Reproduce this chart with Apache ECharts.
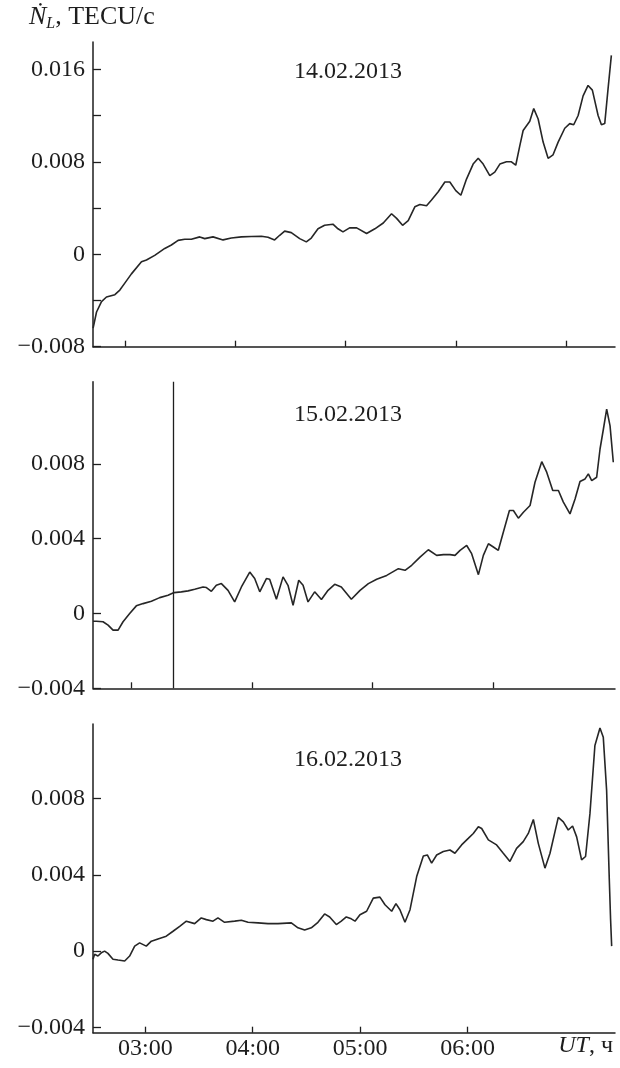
<!DOCTYPE html>
<html>
<head>
<meta charset="utf-8">
<script src="https://cdn.jsdelivr.net/npm/echarts@6/dist/echarts.min.js"></script>
<style>
  html, body { margin: 0; padding: 0; background: #fff; }
  #chart { width: 620px; height: 1068px; }
</style>
</head>
<body>
<div id="chart"></div>
<script>
// Rate of TEC change, Ṅ_L (TECU/c) versus UT, three days of February 2013.
const dayLabels = ['14.02.2013', '15.02.2013', '16.02.2013'];

const day14Hours = [2.713, 2.744, 2.789, 2.834, 2.910, 2.955, 3.000, 3.060, 3.151, 3.196, 3.271, 3.362, 3.422, 3.483, 3.543, 3.603, 3.679, 3.724, 3.799, 3.890, 3.965, 4.056, 4.146, 4.237, 4.297, 4.357, 4.403, 4.448, 4.508, 4.584, 4.644, 4.689, 4.750, 4.810, 4.885, 4.931, 4.976, 5.036, 5.100, 5.190, 5.265, 5.341, 5.416, 5.462, 5.516, 5.567, 5.627, 5.673, 5.733, 5.778, 5.839, 5.899, 5.944, 5.998, 6.044, 6.095, 6.155, 6.201, 6.246, 6.306, 6.351, 6.397, 6.457, 6.502, 6.541, 6.578, 6.608, 6.668, 6.704, 6.744, 6.789, 6.834, 6.879, 6.925, 6.985, 7.030, 7.066, 7.106, 7.151, 7.196, 7.235, 7.287, 7.317, 7.347, 7.377, 7.407];
const day14Values = [-0.0064, -0.0050, -0.0041, -0.0037, -0.0035, -0.0031, -0.0025, -0.0017, -0.00066, -0.0005, -0.0001, 0.0005, 0.0008, 0.0012, 0.0013, 0.0013, 0.0015, 0.00135, 0.0015, 0.00124, 0.0014, 0.0015, 0.00153, 0.00156, 0.00147, 0.00124, 0.00164, 0.0020, 0.00187, 0.00135, 0.00107, 0.0014, 0.0022, 0.0025, 0.0026, 0.0022, 0.00193, 0.00228, 0.00228, 0.00179, 0.0022, 0.0027, 0.0035, 0.0031, 0.0025, 0.0029, 0.0041, 0.0043, 0.0042, 0.0047, 0.0054, 0.00625, 0.00625, 0.0055, 0.0051, 0.0065, 0.0078, 0.0083, 0.0078, 0.0068, 0.0071, 0.0078, 0.0080, 0.0080, 0.0077, 0.0094, 0.0107, 0.0115, 0.0126, 0.0117, 0.0097, 0.0083, 0.0086, 0.0097, 0.0109, 0.0113, 0.0112, 0.0120, 0.0137, 0.0146, 0.0142, 0.0120, 0.0112, 0.0113, 0.0143, 0.0172];

const day15Hours = [2.682, 2.710, 2.765, 2.807, 2.848, 2.890, 2.931, 2.986, 3.041, 3.097, 3.166, 3.235, 3.304, 3.354, 3.414, 3.470, 3.525, 3.594, 3.622, 3.663, 3.704, 3.746, 3.801, 3.856, 3.912, 3.981, 4.022, 4.064, 4.119, 4.146, 4.202, 4.257, 4.298, 4.340, 4.387, 4.423, 4.464, 4.519, 4.575, 4.630, 4.685, 4.740, 4.823, 4.895, 4.964, 5.033, 5.116, 5.213, 5.268, 5.323, 5.392, 5.461, 5.530, 5.586, 5.641, 5.682, 5.724, 5.779, 5.820, 5.876, 5.917, 5.959, 6.000, 6.041, 6.083, 6.133, 6.166, 6.207, 6.249, 6.304, 6.345, 6.401, 6.442, 6.492, 6.539, 6.580, 6.635, 6.677, 6.718, 6.760, 6.787, 6.815, 6.856, 6.884, 6.912, 6.939, 6.967, 6.994];
const day15Values = [-0.00041, -0.00041, -0.00044, -0.00062, -0.00089, -0.00089, -0.00044, 0.0, 0.00041, 0.00053, 0.00066, 0.00085, 0.00098, 0.00112, 0.00116, 0.00121, 0.0013, 0.00142, 0.00139, 0.00119, 0.00151, 0.0016, 0.00124, 0.00062, 0.00142, 0.00222, 0.00187, 0.00116, 0.00187, 0.00183, 0.00076, 0.00196, 0.00151, 0.00044, 0.00178, 0.00151, 0.00062, 0.00116, 0.00075, 0.00124, 0.00156, 0.00142, 0.00076, 0.00124, 0.0016, 0.00183, 0.00204, 0.0024, 0.00231, 0.00258, 0.00302, 0.00341, 0.00311, 0.00315, 0.00315, 0.00311, 0.00338, 0.00364, 0.0032, 0.00208, 0.00311, 0.00373, 0.00356, 0.00338, 0.00436, 0.00551, 0.00551, 0.0051, 0.00542, 0.00578, 0.00702, 0.00812, 0.00756, 0.00658, 0.00658, 0.00596, 0.00533, 0.00613, 0.00706, 0.0072, 0.00747, 0.00711, 0.00729, 0.0088, 0.00987, 0.01093, 0.01004, 0.00809];
const day15Marker = 3.354;

const day16Hours = [2.513, 2.528, 2.559, 2.590, 2.621, 2.652, 2.699, 2.746, 2.808, 2.854, 2.901, 2.947, 3.009, 3.056, 3.118, 3.195, 3.258, 3.320, 3.382, 3.459, 3.521, 3.568, 3.630, 3.676, 3.738, 3.832, 3.894, 3.956, 4.049, 4.142, 4.235, 4.359, 4.421, 4.483, 4.545, 4.607, 4.669, 4.716, 4.778, 4.824, 4.871, 4.917, 4.952, 4.998, 5.060, 5.122, 5.184, 5.231, 5.293, 5.333, 5.370, 5.417, 5.464, 5.526, 5.588, 5.625, 5.665, 5.712, 5.774, 5.836, 5.882, 5.944, 6.006, 6.053, 6.100, 6.131, 6.193, 6.270, 6.332, 6.394, 6.456, 6.518, 6.565, 6.612, 6.658, 6.720, 6.767, 6.844, 6.891, 6.937, 6.977, 7.015, 7.061, 7.098, 7.139, 7.185, 7.232, 7.263, 7.294, 7.319, 7.331, 7.341];
const day16Values = [-0.00043, -0.00017, -0.00026, -0.00009, 0.0, -0.00012, -0.00043, -0.00047, -0.00052, -0.00026, 0.00026, 0.00043, 0.00026, 0.00052, 0.00064, 0.00078, 0.00104, 0.0013, 0.00157, 0.00144, 0.00174, 0.00165, 0.00157, 0.00174, 0.00151, 0.00157, 0.00162, 0.00151, 0.00148, 0.00144, 0.00144, 0.00148, 0.00122, 0.0011, 0.00122, 0.00151, 0.00195, 0.00179, 0.00139, 0.00157, 0.00179, 0.00169, 0.00157, 0.00191, 0.00209, 0.00278, 0.00283, 0.00243, 0.00209, 0.00249, 0.00217, 0.00151, 0.00217, 0.00391, 0.00499, 0.00504, 0.00461, 0.00504, 0.00522, 0.0053, 0.00513, 0.00557, 0.00591, 0.00617, 0.00652, 0.00643, 0.00583, 0.00557, 0.00513, 0.0047, 0.00539, 0.00574, 0.00617, 0.0069, 0.00565, 0.00435, 0.00513, 0.00701, 0.00678, 0.00635, 0.00656, 0.00599, 0.00478, 0.00496, 0.00722, 0.01078, 0.0117, 0.01121, 0.00843, 0.00374, 0.00165, 0.00026];

// Axis extents and tick positions (hours UT / TECU per second)
const xRanges = [[2.712, 7.44], [2.682, 7.008], [2.513, 7.372]];
const xTicks = [[3, 4, 5, 6, 7], [3, 4, 5, 6], [3, 4, 5, 6]];
const yRanges = [[-0.008, 0.01836], [-0.004, 0.0124], [-0.00428, 0.01191]];
const yTicks = [[-0.008, -0.004, 0, 0.004, 0.008, 0.012, 0.016], [-0.004, 0, 0.004, 0.008], [-0.004, 0, 0.004, 0.008]];
const yTickLabels = [[-0.008, 0, 0.008, 0.016], [-0.004, 0, 0.004, 0.008], [-0.004, 0, 0.004, 0.008]];

const FONT = 'Liberation Serif';
const INK = '#1e1e1e';

function zip(xs, ys) { return xs.map((x, i) => [x, ys[i]]); }
function fmtY(v) {
  if (Math.abs(v) < 1e-12) return '0';
  const s = Math.abs(v).toFixed(3);
  return v < 0 ? '\u2212' + s : s;
}
function fmtX(v) { return '0' + Math.round(v) + ':00'; }

const grids = [
  { left: 93, right: 5, top: 42, bottom: 721.3 },
  { left: 93, right: 5, top: 381.7, bottom: 379.7 },
  { left: 93, right: 5, top: 724, bottom: 35.3 }
];

const xAxes = xRanges.map((r, i) => ({
  type: 'value', gridIndex: i, min: r[0], max: r[1],
  axisLine: { show: true, onZero: false, lineStyle: { color: INK, width: 1.5 } },
  axisTick: { show: true, inside: true, length: 6, customValues: xTicks[i], lineStyle: { color: INK, width: 1.3 } },
  axisLabel: {
    show: i === 2, customValues: xTicks[i], formatter: fmtX, margin: 4,
    fontFamily: FONT, fontSize: 24, color: INK
  },
  splitLine: { show: false }
}));

const yAxes = yRanges.map((r, i) => ({
  type: 'value', gridIndex: i, min: r[0], max: r[1],
  axisLine: { show: true, onZero: false, lineStyle: { color: INK, width: 1.5 } },
  axisTick: { show: true, inside: true, length: 8, customValues: yTicks[i], lineStyle: { color: INK, width: 1.3 } },
  axisLabel: {
    customValues: yTickLabels[i], formatter: fmtY, margin: 8,
    fontFamily: FONT, fontSize: 24, color: INK
  },
  splitLine: { show: false }
}));

const lineStyle = { color: '#262626', width: 1.6 };
const series = [
  { type: 'line', xAxisIndex: 0, yAxisIndex: 0, data: zip(day14Hours, day14Values), showSymbol: false, lineStyle },
  {
    type: 'line', xAxisIndex: 1, yAxisIndex: 1, data: zip(day15Hours, day15Values), showSymbol: false, lineStyle,
    markLine: {
      silent: true, symbol: 'none', label: { show: false },
      lineStyle: { color: INK, width: 1.3, type: 'solid' },
      data: [{ xAxis: day15Marker }]
    }
  },
  { type: 'line', xAxisIndex: 2, yAxisIndex: 2, data: zip(day16Hours, day16Values), showSymbol: false, lineStyle }
];

const dateY = [72, 415, 760];
const graphics = dayLabels.map((t, i) => ({
  type: 'text', x: 348, y: dateY[i],
  style: { text: t, textAlign: 'center', textVerticalAlign: 'middle', fill: INK, font: '24px "' + FONT + '"' }
}));
graphics.push({
  type: 'text', left: 29, top: 4,
  style: {
    text: '{n|\u1E44}{l|L}{t|, TECU/c}', fill: INK,
    rich: {
      n: { fontFamily: FONT, fontStyle: 'italic', fontSize: 26, lineHeight: 30 },
      l: { fontFamily: FONT, fontStyle: 'italic', fontSize: 16, lineHeight: 20, verticalAlign: 'bottom' },
      t: { fontFamily: FONT, fontSize: 26, lineHeight: 30 }
    }
  }
});
graphics.push({
  type: 'text', right: 7, top: 1034,
  style: {
    text: '{u|UT}{t|, \u0447}', fill: INK,
    rich: {
      u: { fontFamily: FONT, fontStyle: 'italic', fontSize: 24 },
      t: { fontFamily: FONT, fontSize: 24 }
    }
  }
});

const chart = echarts.init(document.getElementById('chart'), null, { renderer: 'canvas' });
chart.setOption({
  animation: false,
  backgroundColor: '#ffffff',
  grid: grids,
  xAxis: xAxes,
  yAxis: yAxes,
  series: series,
  graphic: graphics
});
</script>
</body>
</html>
